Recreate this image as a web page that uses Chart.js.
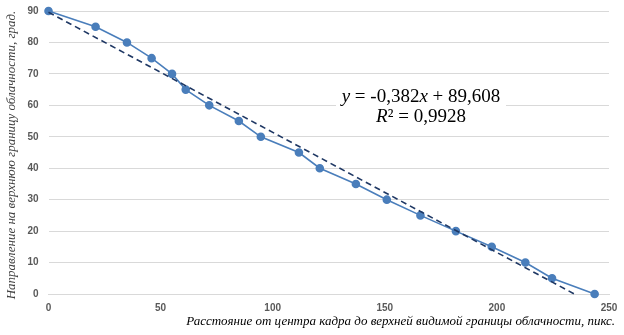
<!DOCTYPE html>
<html><head><meta charset="utf-8">
<script src="https://cdn.jsdelivr.net/npm/chart.js@4"></script>
<style>html,body{margin:0;padding:0;background:#fff;}#wrap{width:624px;height:335px;position:relative;}</style>
</head><body><div id="wrap"><canvas id="c" width="624" height="335"></canvas></div>
<script>
const distances = [0, 21, 35, 46, 55.1, 61.2, 71.7, 84.9, 94.7, 111.7, 121, 137.1, 150.9, 165.9, 181.7, 197.7, 212.7, 224.6, 243.6];
const directions = [90, 85, 80, 75, 70, 65, 60, 55, 50, 45, 40, 35, 30, 25, 20, 15, 10, 5, 0];
const trendSlope = -0.382;
const trendIntercept = 89.608;
const trendX = [0, 234.6];
const equationLine1 = [["y", true], [" = -0,382", false], ["x", true], [" + 89,608", false]];
const equationLine2 = [["R", true], ["² = 0,9928", false]];
const yTitle = "Направление на верхнюю границу облачности, град.";
const xTitle = "Расстояние от центра кадра до верхней видимой границы облачности, пикс.";

const mainData = distances.map((x, i) => ({x: x, y: directions[i]}));
const trendData = trendX.map(x => ({x: x, y: trendSlope * x + trendIntercept}));

function drawMixed(ctx, parts, cx, y, size) {
  const fontFor = it => (it ? 'italic ' : '') + size + 'px "Liberation Serif", serif';
  let total = 0;
  parts.forEach(p => { ctx.font = fontFor(p[1]); total += ctx.measureText(p[0]).width; });
  let x = cx - total / 2;
  ctx.textAlign = 'left';
  parts.forEach(p => { ctx.font = fontFor(p[1]); ctx.fillText(p[0], x, y); x += ctx.measureText(p[0]).width; });
}

const textPlugin = {
  id: 'texts',
  afterDraw(chart) {
    const ctx = chart.ctx;
    ctx.save();
    ctx.fillStyle = '#000';
    ctx.textBaseline = 'middle';
    drawMixed(ctx, equationLine1, 421, 97, 19);
    drawMixed(ctx, equationLine2, 421, 117, 19);
    ctx.textAlign = 'center';
    ctx.font = 'italic 13px "Liberation Serif", serif';
    ctx.fillStyle = '#404040';
    ctx.translate(12, 155);
    ctx.rotate(-Math.PI / 2);
    ctx.fillText(yTitle, 0, 0);
    ctx.restore();
    ctx.save();
    ctx.font = 'italic 13px "Liberation Serif", serif';
    ctx.fillStyle = '#000';
    ctx.textAlign = 'right';
    ctx.textBaseline = 'middle';
    ctx.fillText(xTitle, 615, 322);
    ctx.restore();
  }
};

const boxPlugin = {
  id: 'eqbox',
  afterDatasetsDraw(chart) {
    const ctx = chart.ctx;
    ctx.save();
    ctx.fillStyle = '#fff';
    ctx.fillRect(336, 84, 170, 44);
    ctx.restore();
  }
};

new Chart(document.getElementById('c'), {
  type: 'scatter',
  data: {
    datasets: [
      {
        data: mainData,
        showLine: true,
        clip: false,
        borderColor: '#4a7ebb',
        backgroundColor: '#4a7ebb',
        borderWidth: 1.6,
        pointRadius: 3.5,
        pointHoverRadius: 3.5,
        order: 2
      },
      {
        data: trendData,
        showLine: true,
        clip: false,
        borderColor: '#1f3864',
        borderWidth: 1.6,
        borderDash: [6, 4],
        pointRadius: 0,
        order: 1
      }
    ]
  },
  options: {
    responsive: false,
    animation: false,
    events: [],
    layout: {padding: {top: 11, right: 15, left: 0, bottom: 0}},
    plugins: {legend: {display: false}, tooltip: {enabled: false}},
    scales: {
      x: {
        type: 'linear', min: 0, max: 250,
        ticks: {stepSize: 50, color: '#595959', font: {family: '"Liberation Sans", sans-serif', size: 10, weight: 'bold'}, padding: 8},
        grid: {display: false, drawTicks: false},
        border: {color: '#d9d9d9'},
        afterFit(s) { s.height = 41; s.paddingLeft = 0; s.paddingRight = 0; }
      },
      y: {
        min: 0, max: 90,
        ticks: {stepSize: 10, color: '#595959', font: {family: '"Liberation Sans", sans-serif', size: 10, weight: 'bold'}, padding: 10},
        grid: {color: '#d9d9d9', drawTicks: false},
        border: {display: false},
        afterFit(s) { s.width = 48.5; s.paddingTop = 0; s.paddingBottom = 0; }
      }
    }
  },
  plugins: [boxPlugin, textPlugin]
});
</script></body></html>
